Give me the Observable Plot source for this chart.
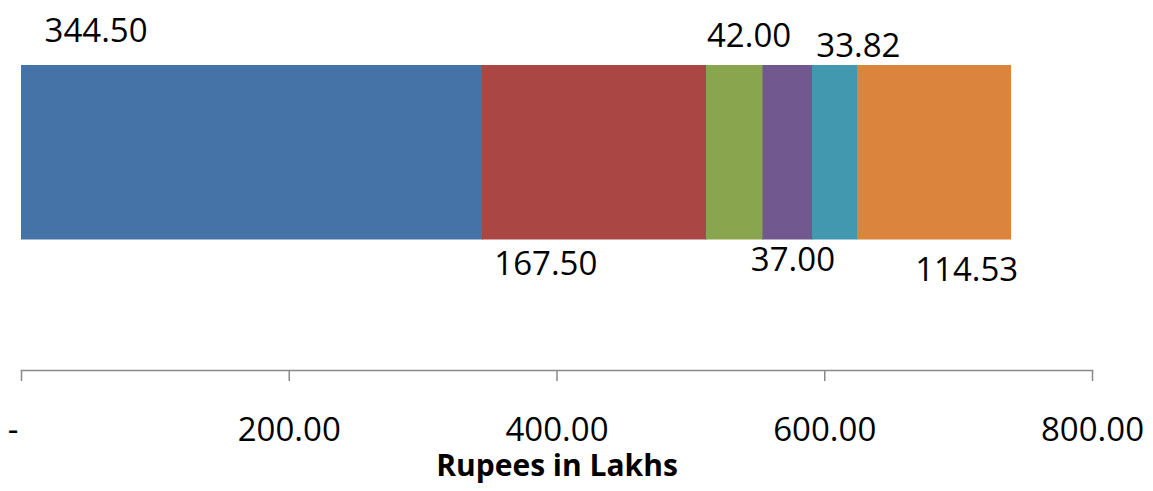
<!DOCTYPE html>
<html>
<head>
<meta charset="utf-8">
<script src="https://cdn.jsdelivr.net/npm/d3@7"></script>
<script src="https://cdn.jsdelivr.net/npm/@observablehq/plot@0.6"></script>
<style>
  html, body { margin: 0; padding: 0; background: #fff; }
  #chart svg { display: block; }
</style>
</head>
<body>
<div id="chart"></div>
<script>
// ---- data ----
const categories = ["Component 1", "Component 2", "Component 3", "Component 4", "Component 5", "Component 6"];
const values = [344.50, 167.50, 42.00, 37.00, 33.82, 114.53];
const colors = ["#4573A7", "#AA4644", "#89A54E", "#71588F", "#4198AF", "#DB843D"];
const xTicks = [0, 200, 400, 600, 800];
const xDomain = [0, 800];
const axisTitle = "Rupees in Lakhs";

// ---- label layout (pixel nudges) ----
const labelDx = [-156, -49, 14, 5, 23, 32];
const labelDy = [-111, 122, -106, 118, -96, 128];

const ends = d3.cumsum(values);
const data = categories.map((c, i) => ({
  category: c,
  value: values[i],
  group: "total",
  mid: ends[i] - values[i] / 2
}));

const fmt = d => d === 0 ? "-\u00a0\u00a0" : d.toFixed(2);

const chart = Plot.plot({
  width: 1153,
  height: 491,
  marginLeft: 21,
  marginRight: 61,
  marginTop: 0,
  marginBottom: 121,
  style: { fontFamily: "'Open Sans', sans-serif", fontSize: "33px", color: "black", background: "white" },
  x: { domain: xDomain },
  y: { type: "band", domain: ["total"], range: [65, 239], padding: 0, axis: null },
  color: { domain: categories, range: colors },
  marks: [
    Plot.barX(data, Plot.stackX({ x: "value", y: "group", fill: "category", stroke: "category", strokeWidth: 0.5, shapeRendering: "crispEdges" })),
    ...data.map((d, i) => Plot.text([d], {
      x: "mid", y: "group", text: v => v.value.toFixed(2),
      dx: labelDx[i], dy: labelDy[i], lineAnchor: "bottom", textAnchor: "middle",
      fill: "black", fontSize: 33
    })),
    Plot.frame({ anchor: "bottom", stroke: "#898989", strokeWidth: 1.5 }),
    Plot.axisX({
      ticks: xTicks, tickFormat: fmt, tickSize: 11, tickPadding: 36,
      stroke: "#898989", strokeWidth: 1.5, fill: "black", fontSize: 33, label: null
    }),
    Plot.text([axisTitle], {
      frameAnchor: "bottom", dy: 105, lineAnchor: "bottom", text: d => d,
      fontWeight: "bold", fontSize: 30, fill: "black"
    })
  ]
});
document.getElementById("chart").appendChild(chart);
</script>
</body>
</html>
